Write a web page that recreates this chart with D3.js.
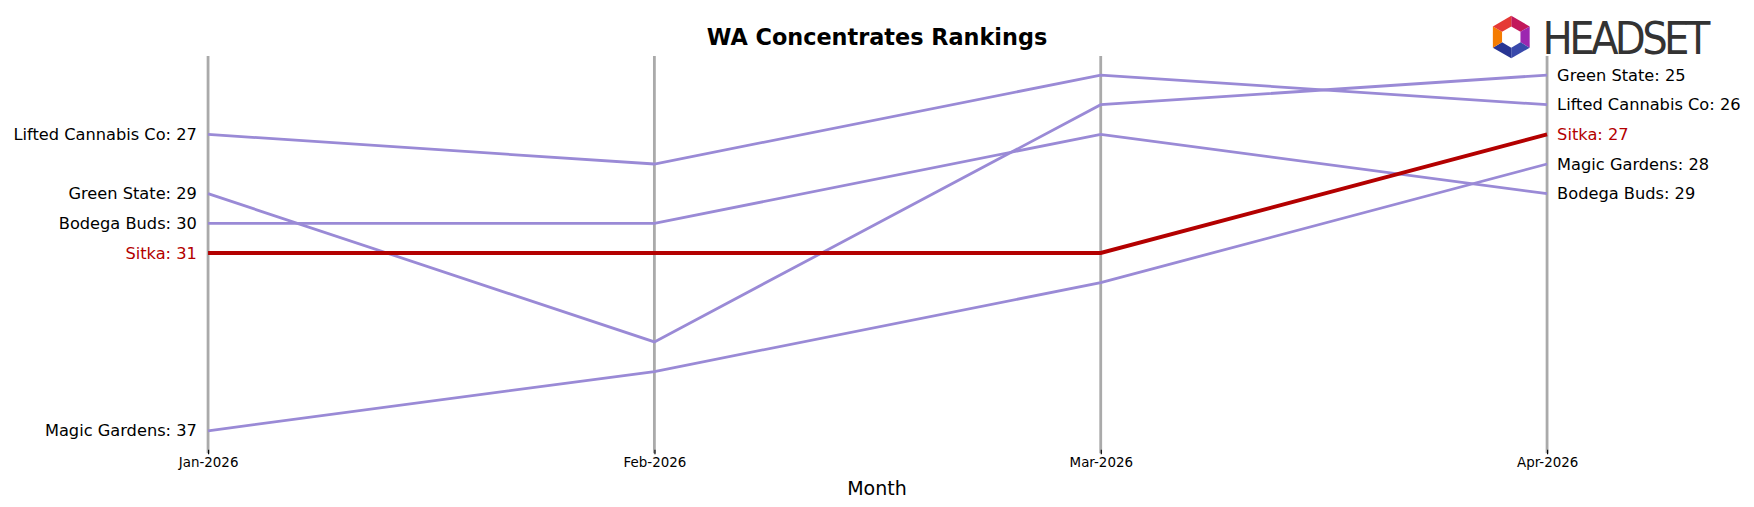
<!DOCTYPE html>
<html><head><meta charset="utf-8">
<script src="https://cdn.jsdelivr.net/npm/d3@7"></script>
<style>body{margin:0;background:#fff;font-family:"DejaVu Sans",sans-serif}</style>
</head><body><div id="chart-area"></div>
<script>
var months = ["Jan-2026", "Feb-2026", "Mar-2026", "Apr-2026"]
var brands = ["Lifted Cannabis Co", "Green State", "Bodega Buds", "Magic Gardens", "Sitka"]
var ranks = {
    "Lifted Cannabis Co": [27, 28, 25, 26],
    "Green State": [29, 34, 26, 25],
    "Bodega Buds": [30, 30, 27, 29],
    "Magic Gardens": [37, 35, 32, 28],
    "Sitka": [31, 31, 31, 27]
}
var focus = "Sitka"

// layout measured on a 1568-wide copy, scaled up via viewBox
var cw = 1754, ch = 507
var svg = d3.select("#chart-area").append("svg").attr("width", cw).attr("height", ch)
    .attr("viewBox", "0 0 1568 453")

var x = d3.scalePoint().domain(months).range([186, 1383])
var y = d3.scaleLinear().domain([25, 37]).range([67, 385])

svg.append("text").attr("x", 784).attr("y", 40).attr("text-anchor", "middle")
    .attr("font-size", "20px").attr("font-weight", "bold").text("WA Concentrates Rankings")

months.forEach(m => {
    svg.append("line").attr("x1", x(m)).attr("x2", x(m)).attr("y1", 50).attr("y2", 405)
        .attr("stroke", "#aaa").attr("stroke-width", 2.5)
})

var xAxis = svg.append("g").attr("transform", "translate(0,402)")
    .call(d3.axisBottom(x).tickSize(4).tickSizeOuter(0))
xAxis.select(".domain").remove()
xAxis.selectAll("text").attr("font-size", "12px").attr("font-family", "DejaVu Sans").attr("fill", "#000")

svg.append("text").attr("x", 784).attr("y", 442).attr("text-anchor", "middle")
    .attr("font-size", "17px").text("Month")

var line = d3.line().x((d, i) => x(months[i])).y(d => y(d))
var order = brands.filter(b => b != focus).concat([focus])
order.forEach(b => {
    var isF = b == focus
    svg.append("path").attr("d", line(ranks[b])).attr("fill", "none")
        .attr("stroke", isF ? "#b30000" : "#9a8ad6").attr("stroke-width", isF ? 3.5 : 2.5)
    var r = ranks[b]
    svg.append("text").attr("x", 176).attr("y", y(r[0])).attr("dy", "0.35em").attr("text-anchor", "end")
        .attr("font-size", "14.5px").attr("fill", isF ? "#b30000" : "#000").text(b + ": " + r[0])
    svg.append("text").attr("x", 1392).attr("y", y(r[3])).attr("dy", "0.35em")
        .attr("font-size", "14.5px").attr("fill", isF ? "#b30000" : "#000").text(b + ": " + r[3])
})

// logo
var lg = svg.append("g").attr("transform", "translate(1351,33)")
var hex = d3.range(6).map(i => [19 * Math.cos(Math.PI / 3 * i - Math.PI / 2), 19 * Math.sin(Math.PI / 3 * i - Math.PI / 2)])
var cols = ["#c2185b", "#9c27b0", "#3949ab", "#283593", "#f57c00", "#e53935"]
hex.forEach((p, i) => {
    var q = hex[(i + 1) % 6]
    lg.append("path").attr("d", "M" + p + "L" + q + "L" + [q[0] * 0.5, q[1] * 0.5] + "L" + [p[0] * 0.5, p[1] * 0.5] + "Z")
        .attr("fill", cols[i])
})
lg.append("text").attr("x", 28).attr("y", 15).attr("font-size", "40px").attr("font-family", "Liberation Sans Narrow, DejaVu Sans Condensed, sans-serif")
    .attr("fill", "#333").attr("textLength", 150).text("HEADSET")
</script></body></html>
